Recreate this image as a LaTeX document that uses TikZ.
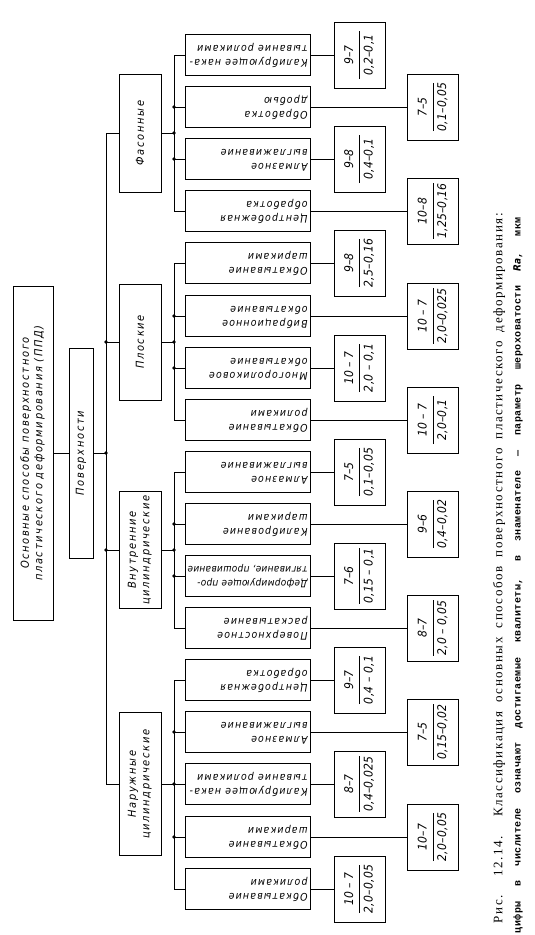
\documentclass[tikz,border=0pt]{standalone}
\usepackage{fontspec}
\setmainfont{Liberation Serif}
\newfontfamily\gostfont{DejaVu Sans Condensed Oblique}[LetterSpace=15]
\newfontfamily\gostleaf{DejaVu Sans Condensed Oblique}[LetterSpace=11]
\newfontfamily\gosttight{DejaVu Sans Condensed Oblique}[LetterSpace=3]
\newfontfamily\gostnum{DejaVu Sans Condensed Oblique}[LetterSpace=2]
\newfontfamily\capfont{Liberation Serif}[LetterSpace=12]
\newfontfamily\notefont{Liberation Mono}[LetterSpace=5]
\newcommand{\upr}[1]{\rotatebox{90}{#1}}
\newcommand{\flip}[2]{\rotatebox{180}{\makebox[119pt][l]{\begin{tabular}{@{}l@{}}#1\\#2\end{tabular}}}}
\newcommand{\quot}[2]{\upr{\renewcommand{\arraystretch}{1.2}\begin{tabular}{@{}c@{}}\makebox[48pt]{#1}\\[1pt]\hline\rule{0pt}{13pt}#2\end{tabular}}}

\tikzset{every picture/.style={line width=0.8pt}}
\tikzset{
  frame/.style={draw, inner sep=0pt, font=\gostfont\fontsize{11}{13.5}\selectfont},
  leafbox/.style={frame, minimum width=125pt, minimum height=41pt, font=\gostleaf\fontsize{10.5}{14}\selectfont},
  numbox/.style={frame, minimum width=51pt, minimum height=66pt, font=\gostnum\fontsize{12}{14}\selectfont},
  kindbox/.style={frame, minimum width=42pt},
  dot/.style={circle, fill, inner sep=0pt, minimum size=3.6pt}
}

\begin{document}
\begin{tikzpicture}[x=1pt,y=1pt,yscale=-1]
\useasboundingbox (0,0) rectangle (535,935);
% Root and surfaces
\node[frame, minimum width=40pt, minimum height=334pt] (root) at (33,453) {\upr{\begin{tabular}{@{}c@{}}Основные способы поверхностного\\пластического деформирования (ППД)\end{tabular}}};
\node[frame, minimum width=24pt, minimum height=210pt] (pov) at (81,453) {\upr{Поверхности}};
% Kinds of surfaces
\node[kindbox, minimum height=118pt] (fas) at (140,133) {\upr{Фасонные}};
\node[kindbox, minimum height=116pt] (plo) at (140,342) {\upr{Плоские}};
\node[kindbox, minimum height=117pt] (vnu) at (140,550) {\upr{\begin{tabular}{@{}c@{}}Внутренние\\цилиндрические\end{tabular}}};
\node[kindbox, minimum height=143pt] (nar) at (140,784) {\upr{\begin{tabular}{@{}c@{}}Наружные\\цилиндрические\end{tabular}}};
% Methods
\node[leafbox] (l1) at (248,55) {\flip{Калибрующее нака-}{тывание роликами}};
\node[leafbox] (l2) at (248,107) {\flip{Обработка}{дробью}};
\node[leafbox] (l3) at (248,159) {\flip{Алмазное}{выглаживание}};
\node[leafbox] (l4) at (248,211) {\flip{Центробежная}{обработка}};
\node[leafbox] (l5) at (248,263) {\flip{Обкатывание}{шариками}};
\node[leafbox] (l6) at (248,316) {\flip{Вибрационное}{обкатывание}};
\node[leafbox] (l7) at (248,368) {\flip{Многороликовое}{обкатывание}};
\node[leafbox] (l8) at (248,420) {\flip{Обкатывание}{роликами}};
\node[leafbox] (l9) at (248,472) {\flip{Алмазное}{выглаживание}};
\node[leafbox] (l10) at (248,524) {\flip{Калибрование}{шариками}};
\node[leafbox, font=\gosttight\fontsize{10}{14}\selectfont] (l11) at (248,576) {\flip{Деформирующее про-}{тягивание, прошивание}};
\node[leafbox] (l12) at (248,628) {\flip{Поверхностное}{раскатывание}};
\node[leafbox] (l13) at (248,680) {\flip{Центробежная}{обработка}};
\node[leafbox] (l14) at (248,732) {\flip{Алмазное}{выглаживание}};
\node[leafbox] (l15) at (248,784) {\flip{Калибрующее нака-}{тывание роликами}};
\node[leafbox] (l16) at (248,837) {\flip{Обкатывание}{шариками}};
\node[leafbox] (l17) at (248,889) {\flip{Обкатывание}{роликами}};
% Quality grade / roughness
\node[numbox] (n1) at (359.5,55) {\quot{9–7}{0,2–0,1}};
\node[numbox] (n2) at (433,107) {\quot{7–5}{0,1–0,05}};
\node[numbox] (n3) at (359.5,159) {\quot{9–8}{0,4–0,1}};
\node[numbox] (n4) at (433,211) {\quot{10–8}{1,25–0,16}};
\node[numbox] (n5) at (359.5,263) {\quot{9–8}{2,5–0,16}};
\node[numbox] (n6) at (433,316) {\quot{10 – 7}{2,0–0,025}};
\node[numbox] (n7) at (359.5,368) {\quot{10 – 7}{2,0 – 0,1}};
\node[numbox] (n8) at (433,420) {\quot{10 – 7}{2,0–0,1}};
\node[numbox] (n9) at (359.5,472) {\quot{7–5}{0,1–0,05}};
\node[numbox] (n10) at (433,524) {\quot{9–6}{0,4–0,02}};
\node[numbox] (n11) at (359.5,576) {\quot{7–6}{0,15 – 0,1}};
\node[numbox] (n12) at (433,628) {\quot{8–7}{2,0 – 0,05}};
\node[numbox] (n13) at (359.5,680) {\quot{9–7}{0,4 – 0,1}};
\node[numbox] (n14) at (433,732) {\quot{7–5}{0,15–0,02}};
\node[numbox] (n15) at (359.5,784) {\quot{8–7}{0,4–0,025}};
\node[numbox] (n16) at (433,837) {\quot{10–7}{2,0–0,05}};
\node[numbox] (n17) at (359.5,889) {\quot{10 – 7}{2,0–0,05}};
% Caption
\node[inner sep=0pt, font=\capfont\fontsize{13}{15}\selectfont] (cap1) at (499,568) {\upr{\makebox[710pt][s]{Рис. 12.14. Классификация основных способов поверхностного пластического деформирования:}}};
\node[inner sep=0pt, font=\notefont\bfseries\fontsize{10}{12}\selectfont] (cap2) at (518,575) {\upr{\makebox[716pt][s]{цифры в числителе означают достигаемые квалитеты, в знаменателе — параметр шероховатости {\gostnum Ra}, мкм}}};
% Trunk
\coordinate (tf) at (106,133);
\coordinate (tp) at (106,342);
\coordinate (tr) at (106,453);
\coordinate (tv) at (106,550);
\coordinate (tn) at (106,784);
\draw (root) -- (pov);
\draw (pov) -- (tr);
\draw (tf) -- (tn);
\draw (tf) -- (fas);
\draw (tp) -- (plo);
\draw (tv) -- (vnu);
\draw (tn) -- (nar);
\node[dot] at (tp) {};
\node[dot] at (tr) {};
\node[dot] at (tv) {};
% Buses
\coordinate (bf) at (174,133);
\coordinate (bp) at (174,342);
\coordinate (bv) at (174,550);
\coordinate (b1) at (174,55);
\coordinate (b2) at (174,107);
\coordinate (b3) at (174,159);
\coordinate (b4) at (174,211);
\coordinate (b5) at (174,263);
\coordinate (b6) at (174,316);
\coordinate (b7) at (174,368);
\coordinate (b8) at (174,420);
\coordinate (b9) at (174,472);
\coordinate (b10) at (174,524);
\coordinate (b11) at (174,576);
\coordinate (b12) at (174,628);
\coordinate (b13) at (174,680);
\coordinate (b14) at (174,732);
\coordinate (b15) at (174,784);
\coordinate (b16) at (174,837);
\coordinate (b17) at (174,889);
\draw (b1) -- (b4);
\draw (b5) -- (b8);
\draw (b9) -- (b12);
\draw (b13) -- (b17);
\draw (fas) -- (bf);
\draw (plo) -- (bp);
\draw (vnu) -- (bv);
\draw (nar) -- (b15);
\node[dot] at (b2) {};
\node[dot] at (bf) {};
\node[dot] at (b3) {};
\node[dot] at (b6) {};
\node[dot] at (bp) {};
\node[dot] at (b7) {};
\node[dot] at (b10) {};
\node[dot] at (bv) {};
\node[dot] at (b11) {};
\node[dot] at (b14) {};
\node[dot] at (b15) {};
\node[dot] at (b16) {};
% Leaves to grades
\draw (b1) -- (l1) (l1) -- (n1);
\draw (b2) -- (l2) (l2) -- (n2);
\draw (b3) -- (l3) (l3) -- (n3);
\draw (b4) -- (l4) (l4) -- (n4);
\draw (b5) -- (l5) (l5) -- (n5);
\draw (b6) -- (l6) (l6) -- (n6);
\draw (b7) -- (l7) (l7) -- (n7);
\draw (b8) -- (l8) (l8) -- (n8);
\draw (b9) -- (l9) (l9) -- (n9);
\draw (b10) -- (l10) (l10) -- (n10);
\draw (b11) -- (l11) (l11) -- (n11);
\draw (b12) -- (l12) (l12) -- (n12);
\draw (b13) -- (l13) (l13) -- (n13);
\draw (b14) -- (l14) (l14) -- (n14);
\draw (b15) -- (l15) (l15) -- (n15);
\draw (b16) -- (l16) (l16) -- (n16);
\draw (b17) -- (l17) (l17) -- (n17);
\end{tikzpicture}
\end{document}
